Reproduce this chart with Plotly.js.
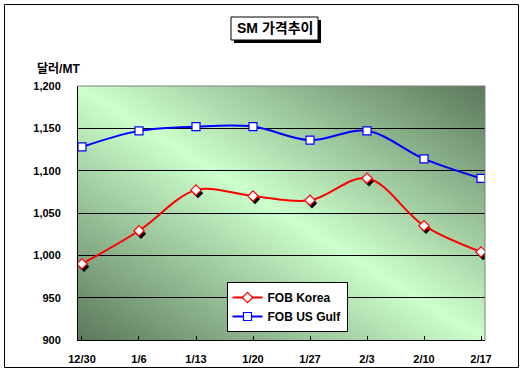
<!DOCTYPE html>
<html>
<head>
<meta charset="utf-8">
<script src="https://cdn.plot.ly/plotly-3.0.1.min.js"></script>
<style>html,body{margin:0;padding:0;background:#fff;}#chart{width:524px;height:377px;}</style>
</head>
<body>
<div id="chart"></div>
<script>
// ---- data ----
const categories = ["12/30", "1/6", "1/13", "1/20", "1/27", "2/3", "2/10", "2/17"];
const fobKorea = [990, 1029, 1077, 1070, 1065, 1091, 1035, 1004];
const fobUsGulf = [1128, 1147, 1152, 1152, 1136, 1147, 1114, 1091];
const seriesNames = ["FOB Korea", "FOB US Gulf"];
const chartTitle = "SM 가격추이";
const yUnit = "달러/MT";
const yTicks = [900, 950, 1000, 1050, 1100, 1150, 1200];

const idx = categories.map((c, i) => i);
const FONT = "Liberation Sans, Arial, Noto Sans CJK KR, sans-serif";

const bgSvg = '<svg xmlns="http://www.w3.org/2000/svg" width="400" height="250" preserveAspectRatio="none">' +
  '<defs><linearGradient id="g" x1="1" y1="0" x2="0" y2="1">' +
  '<stop offset="0" stop-color="#5b785b"/>' +
  '<stop offset="0.5" stop-color="#ccffcc"/>' +
  '<stop offset="1" stop-color="#5b785b"/>' +
  '</linearGradient></defs><rect width="400" height="250" fill="url(#g)"/></svg>';
const bgUrl = "data:image/svg+xml;charset=utf-8," + encodeURIComponent(bgSvg);

const traces = [
  { // marker shadow for Korea
    x: idx, y: fobKorea, type: "scatter", mode: "markers", showlegend: false, hoverinfo: "skip",
    marker: { symbol: "diamond", size: 8, color: "#000", line: { width: 0 } }
  },
  {
    x: idx, y: fobKorea, type: "scatter", mode: "lines+markers", name: seriesNames[0],
    line: { color: "#ff0000", width: 2, shape: "spline", smoothing: 1 },
    marker: { symbol: "diamond", size: 8, color: "#ffffff", line: { color: "#ff0000", width: 1.2 } }
  },
  {
    x: idx, y: fobUsGulf, type: "scatter", mode: "lines+markers", name: seriesNames[1],
    line: { color: "#0000ff", width: 2, shape: "spline", smoothing: 1 },
    marker: { symbol: "square", size: 8, color: "#ffffff", line: { color: "#0000ff", width: 1.2 } }
  }
];

const L = 78, R = 485, T = 86, B = 340;
const px = v => (v - L) / (R - L);
const py = v => (B - v) / (B - T);

const layout = {
  width: 524, height: 377,
  margin: { l: L, r: 524 - R, t: T, b: 377 - B, pad: 0 },
  paper_bgcolor: "#ffffff",
  plot_bgcolor: "rgba(0,0,0,0)",
  font: { family: FONT, size: 11, color: "#000", weight: "bold" },
  showlegend: true,
  xaxis: {
    range: [-0.07, 7.07], tickvals: idx, ticktext: categories,
    ticks: "inside", ticklen: 4, tickcolor: "#000", tickwidth: 1,
    showline: true, linecolor: "#000", linewidth: 1,
    showgrid: false, zeroline: false,
    tickfont: { family: FONT, size: 11, weight: "bold", color: "#000" },
    ticklabelstandoff: 9, fixedrange: true
  },
  yaxis: {
    range: [900, 1200], tickvals: yTicks, tickformat: ",d",
    ticks: "", showline: true, linecolor: "#000", linewidth: 1,
    showgrid: true, gridcolor: "#000", gridwidth: 1, zeroline: false,
    tickfont: { family: FONT, size: 11, weight: "bold", color: "#000" },
    ticklabelstandoff: 14, fixedrange: true
  },
  legend: {
    x: px(287), y: py(282), xanchor: "center", yanchor: "top",
    bgcolor: "#ffffff", bordercolor: "#000", borderwidth: 1,
    font: { family: FONT, size: 12, weight: "bold", color: "#000" },
    itemwidth: 30, tracegroupgap: 0
  },
  images: [{
    source: bgUrl, xref: "paper", yref: "paper", x: 0, y: 1, sizex: 1, sizey: 1,
    sizing: "stretch", xanchor: "left", yanchor: "top", layer: "below"
  }],
  shapes: [
    // outer chart border
    { type: "rect", xref: "paper", yref: "paper", x0: px(4.5), x1: px(518.5), y0: py(367.5), y1: py(4.5),
      line: { color: "#000", width: 1 }, fillcolor: "rgba(0,0,0,0)", layer: "above" },
    // plot top & right gray border
    { type: "line", xref: "paper", yref: "paper", x0: 0, x1: 1, y0: 1, y1: 1, line: { color: "#808080", width: 1 }, layer: "above" },
    { type: "line", xref: "paper", yref: "paper", x0: 1, x1: 1, y0: 0, y1: 1, line: { color: "#808080", width: 1 }, layer: "above" },
    // title box shadow + box
    { type: "rect", xref: "paper", yref: "paper", x0: px(234), x1: px(321), y0: py(43), y1: py(20),
      line: { width: 0 }, fillcolor: "#000", layer: "above" },
    { type: "rect", xref: "paper", yref: "paper", x0: px(231), x1: px(318), y0: py(40), y1: py(17),
      line: { color: "#000", width: 1 }, fillcolor: "#fff", layer: "above" }
  ],
  annotations: [
    { text: chartTitle, xref: "paper", yref: "paper", x: px(274.5), y: py(28.5),
      xanchor: "center", yanchor: "middle", showarrow: false,
      font: { family: "Liberation Sans, Noto Sans CJK KR, sans-serif", size: 14, weight: "bold", color: "#000" } },
    { text: yUnit, xref: "paper", yref: "paper", x: px(35), y: py(69),
      xanchor: "left", yanchor: "middle", showarrow: false,
      font: { family: "Liberation Sans, Noto Sans CJK KR, sans-serif", size: 12, weight: "bold", color: "#000" } }
  ]
};

Plotly.newPlot("chart", traces, layout, { staticPlot: true, displayModeBar: false }).then(gd => {
  const tr = gd.querySelectorAll(".scatterlayer .trace");
  if (tr.length) tr[0].setAttribute("transform", "translate(2,3)");
});
</script>
</body>
</html>
